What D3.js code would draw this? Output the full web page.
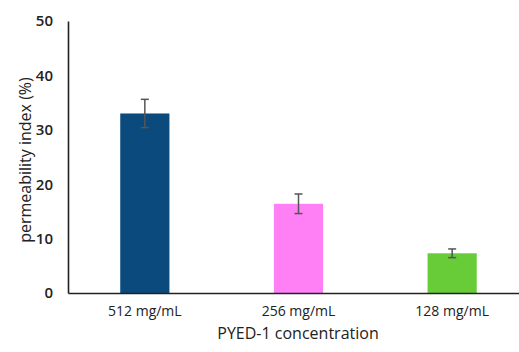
<!DOCTYPE html>
<html>
<head>
<meta charset="utf-8">
<script src="https://cdn.jsdelivr.net/npm/d3@7"></script>
<style>
  body { margin: 0; background: #fff; }
  text { font-family: "Open Sans", "Noto Sans", sans-serif; fill: #222; }
</style>
</head>
<body>
<div id="chart"></div>
<script>
const categories = ['512 mg/mL', '256 mg/mL', '128 mg/mL']
const values = [33.0, 16.4, 7.3]
const errors = [2.6, 1.8, 0.8]
const colors = ['#0b4a7c', '#ff80f5', '#68cc38']
const yTicks = [0, 10, 20, 30, 40, 50]

const width = 519, height = 352
const margin = {top: 21, left: 68, bottom: 59}

const svg = d3.select("#chart")
  .append("svg")
    .attr("width", width)
    .attr("height", height)

const data = categories.map((c, i) => ({cat: c, val: values[i], err: errors[i], color: colors[i]}))

const x = d3.scaleBand()
  .domain(categories)
  .range([margin.left, margin.left + 461])

const y = d3.scaleLinear()
  .domain([0, 50])
  .range([height - margin.bottom, margin.top])

const barW = x.bandwidth() * 0.32

// bars
svg.selectAll(".bar")
  .data(data)
  .join("rect")
    .attr("x", d => x(d.cat) + x.bandwidth() / 2 - barW / 2)
    .attr("y", d => y(d.val))
    .attr("width", barW)
    .attr("height", d => y(0) - y(d.val))
    .attr("fill", d => d.color)

// error bars
const eb = svg.selectAll(".err")
  .data(data)
  .join("g")
    .attr("stroke", "#555")
    .attr("stroke-width", 1.5)
eb.append("line")
  .attr("x1", d => x(d.cat) + x.bandwidth() / 2)
  .attr("x2", d => x(d.cat) + x.bandwidth() / 2)
  .attr("y1", d => y(d.val + d.err))
  .attr("y2", d => y(d.val - d.err))
eb.selectAll(".cap")
  .data(d => [d.val + d.err, d.val - d.err].map(v => ({cat: d.cat, v: v})))
  .join("line")
    .attr("x1", d => x(d.cat) + x.bandwidth() / 2 - 4)
    .attr("x2", d => x(d.cat) + x.bandwidth() / 2 + 4)
    .attr("y1", d => y(d.v))
    .attr("y2", d => y(d.v))

// y axis
const yAxis = svg.append("g")
  .attr("transform", `translate(${margin.left},0)`)
  .call(d3.axisLeft(y).tickValues(yTicks).tickSize(0).tickPadding(15))
yAxis.select(".domain").attr("stroke", "#222").attr("stroke-width", 1.6)
yAxis.selectAll("text")
  .style("font-size", "15px")
  .style("font-weight", "600")
  .attr("fill", "#333")

// x axis
const xAxis = svg.append("g")
  .attr("transform", `translate(0,${y(0)})`)
  .call(d3.axisBottom(x).tickSize(0).tickPadding(13))
xAxis.select(".domain").attr("stroke", "#222").attr("stroke-width", 1.6)
xAxis.selectAll("text")
  .style("font-size", "14px")
  .attr("fill", "#333")

svg.append("text")
  .attr("text-anchor", "middle")
  .attr("x", 298)
  .attr("y", 339)
  .style("font-size", "16px")
  .text("PYED-1 concentration")

svg.append("text")
  .attr("text-anchor", "middle")
  .attr("transform", `translate(31,${(y(0) + y(50)) / 2 + 3})rotate(-90)`)
  .style("font-size", "16px")
  .text("permeability index (%)")
</script>
</body>
</html>
